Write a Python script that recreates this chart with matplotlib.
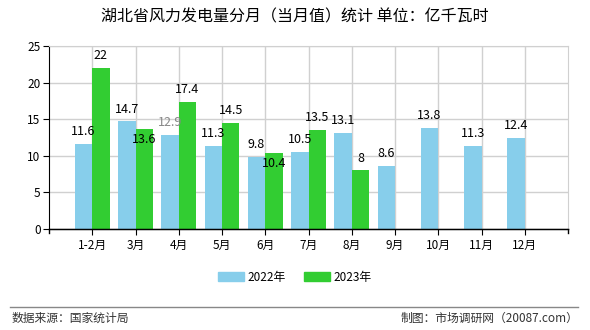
import numpy as np
import matplotlib.pyplot as plt
from matplotlib.patches import Patch
from matplotlib.lines import Line2D

plt.rcParams['font.family'] = ['Noto Sans CJK SC', 'DejaVu Sans']

# data
months = ['1-2月', '3月', '4月', '5月', '6月', '7月', '8月', '9月', '10月', '11月', '12月']
v2022 = [11.6, 14.7, 12.9, 11.3, 9.8, 10.5, 13.1, 8.6, 13.8, 11.3, 12.4]
v2023 = [22, 13.6, 17.4, 14.5, 10.4, 13.5, 8]

blue = '#87ceeb'
green = '#32cd32'

fig = plt.figure(figsize=(5.9, 3.3), dpi=100)
ax = fig.add_axes([49 / 590, 1 - 229 / 330, 519 / 590, 183 / 330])

x = np.arange(1, len(months) + 1)
w = 0.4
ax.bar(x - w / 2, v2022, width=w, color=blue, zorder=2)
ax.bar(x[:len(v2023)] + w / 2, v2023, width=w, color=green, zorder=2)

# value labels
for i, v in enumerate(v2022):
    ax.text(x[i] - w / 2, v + 0.8, f'{v:g}', ha='center', va='bottom',
            fontsize=9, color='#888888' if i == 2 else 'black', zorder=3)
for i, v in enumerate(v2023):
    if abs(v - v2022[i]) < 1.2:
        # too close to the 2022 label, drop it below the bar top
        ax.text(x[i] + w / 2, v - 0.5, f'{v:g}', ha='center', va='top', fontsize=9, zorder=3)
    else:
        ax.text(x[i] + w / 2, v + 0.8, f'{v:g}', ha='center', va='bottom', fontsize=9, zorder=3)

ax.set_xlim(0, 12)
ax.set_ylim(0, 25)
ax.set_yticks(range(0, 26, 5))
ax.set_xticks(x)
ax.set_xticklabels(months)
ax.tick_params(axis='x', length=4, labelsize=8.5, pad=3)
ax.tick_params(axis='y', length=4, labelsize=8.5, pad=2)
ax.grid(True, color='#d0d0d0', linewidth=1, zorder=0)
for s in ['top', 'right']:
    ax.spines[s].set_color('#d0d0d0')
for s in ['left', 'bottom']:
    ax.spines[s].set_color('black')
# end ticks on the x axis
ax.plot([0, 12], [0, 0], color='black', lw=1, clip_on=False, zorder=4)
for xe in (0, 12):
    ax.plot([xe, xe], [0, -0.55], color='black', lw=1, clip_on=False)

fig.text(0.5, 1 - 17 / 330, '湖北省风力发电量分月（当月值）统计 单位：亿千瓦时',
         ha='center', va='center', fontsize=11.5)

handles = [Patch(color=blue), Patch(color=green)]
fig.legend(handles, ['2022年', '2023年'], loc='center', bbox_to_anchor=(0.5, 1 - 277 / 330),
           ncol=2, frameon=False, fontsize=8.5, handlelength=2.2, handleheight=0.9,
           handletextpad=0.3, columnspacing=1.5)

fig.add_artist(Line2D([10 / 590, 578 / 590], [1 - 307 / 330] * 2, color='#888888', lw=1))
fig.text(12 / 590, 1 - 318 / 330, '数据来源：国家统计局', ha='left', va='center', fontsize=8.5, color='#333333')
fig.text(578 / 590, 1 - 318 / 330, '制图：市场调研网（20087.com）', ha='right', va='center',
         fontsize=8.5, color='#333333')

fig.savefig('out.png', dpi=100)
